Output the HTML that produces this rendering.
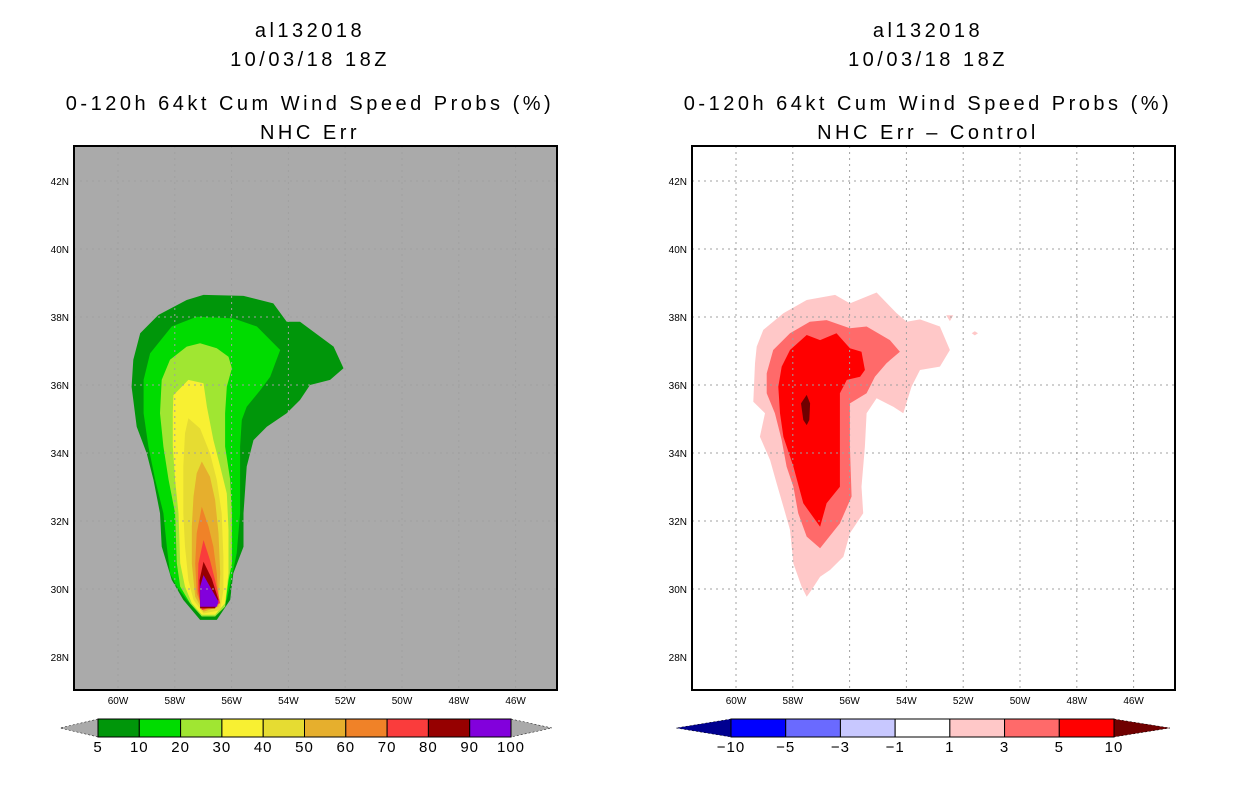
<!DOCTYPE html>
<html><head><meta charset="utf-8"><style>
body{margin:0;background:#fff;}
svg{display:block;font-family:"Liberation Sans",sans-serif;}
</style></head><body>
<svg id="c" width="1236" height="800" xmlns="http://www.w3.org/2000/svg"></svg>
<script>
const latTicks=[28,30,32,34,36,38,40,42];
const lonTicks=[-60,-58,-56,-54,-52,-50,-48,-46];
const leftLevels=[5,10,20,30,40,50,60,70,80,90,100];
const leftColors=["#00960a","#00dc00","#a0e632","#f8f032","#e6dc32","#e6af2d","#f08228","#fa3c3c","#960000","#8200dc"];
const rightLevels=[-10,-5,-3,-1,1,3,5,10];
const rightColors=["#0000ff","#6a6aff","#c8c8ff","#ffffff","#ffc8c8","#ff6a6a","#ff0000"];
const rightEnds=["#000090","#700000"];
const c5=[[-58.58,38.06],[-57.58,38.5],[-56.99,38.65],[-55.58,38.62],[-54.53,38.4],[-54.06,37.86],[-53.59,37.86],[-52.41,37.13],[-52.06,36.49],[-52.53,36.15],[-53.24,36.0],[-53.59,35.56],[-54.06,35.17],[-54.76,34.77],[-55.23,34.38],[-55.47,33.6],[-55.58,32.23],[-55.58,31.24],[-55.94,30.46],[-56.05,29.68],[-56.52,29.09],[-57.11,29.09],[-57.7,29.68],[-58.11,30.27],[-58.46,31.25],[-58.52,32.23],[-58.75,33.21],[-58.99,33.99],[-59.34,34.77],[-59.52,35.95],[-59.46,36.74],[-59.22,37.52]];
const c10=[[-58.11,37.72],[-57.23,38.01],[-55.94,37.96],[-55.11,37.72],[-54.29,37.03],[-54.64,36.24],[-54.99,35.85],[-55.47,35.36],[-55.64,34.97],[-55.7,34.19],[-55.7,32.23],[-55.82,31.05],[-55.99,30.36],[-56.17,29.68],[-56.58,29.19],[-57.05,29.19],[-57.58,29.68],[-57.93,30.07],[-58.17,30.46],[-58.28,31.25],[-58.4,32.23],[-58.69,33.21],[-58.93,34.19],[-59.1,35.17],[-59.1,36.15],[-58.87,36.93]];
const c20=[[-58.17,36.74],[-57.58,37.13],[-57.11,37.23],[-56.52,37.08],[-56.11,36.83],[-55.99,36.49],[-56.17,35.95],[-56.23,35.17],[-56.23,34.19],[-56.05,33.21],[-55.99,32.23],[-55.99,30.75],[-56.11,30.26],[-56.23,29.48],[-56.58,29.19],[-57.05,29.19],[-57.46,29.58],[-57.81,30.07],[-57.93,30.76],[-57.99,32.23],[-58.22,33.21],[-58.4,34.19],[-58.52,35.17],[-58.46,36.15]];
const c30=[[-58.05,35.7],[-57.52,36.15],[-56.99,36.05],[-56.87,35.36],[-56.64,34.38],[-56.4,33.6],[-56.17,32.81],[-56.11,31.74],[-56.11,30.46],[-56.23,29.58],[-56.58,29.24],[-57.05,29.24],[-57.4,29.58],[-57.64,30.07],[-57.81,30.76],[-57.87,32.23],[-57.99,33.21],[-58.07,34.19],[-58.07,35.17]];
const c40=[[-57.52,35.02],[-57.11,34.72],[-56.76,33.99],[-56.52,33.21],[-56.35,32.23],[-56.29,30.95],[-56.29,29.97],[-56.4,29.38],[-56.99,29.28],[-57.34,29.68],[-57.52,30.26],[-57.64,31.24],[-57.7,32.23],[-57.7,33.6],[-57.64,34.58]];
const c50=[[-57.05,33.75],[-56.76,33.3],[-56.58,32.62],[-56.46,31.64],[-56.4,30.46],[-56.46,29.48],[-56.99,29.33],[-57.28,29.77],[-57.4,30.76],[-57.4,31.83],[-57.34,32.72],[-57.23,33.4]];
const c60=[[-57.05,32.42],[-56.81,31.83],[-56.64,31.24],[-56.52,30.46],[-56.46,29.53],[-56.99,29.38],[-57.23,29.87],[-57.28,30.75],[-57.23,31.64]];
const c70=[[-56.99,31.44],[-56.76,30.85],[-56.58,30.26],[-56.4,29.58],[-57.05,29.38],[-57.19,29.97],[-57.17,30.75]];
const c80=[[-56.99,30.8],[-56.7,30.31],[-56.46,29.68],[-56.58,29.43],[-57.11,29.43],[-57.13,30.26]];
const c90=[[-56.99,30.41],[-56.76,30.07],[-56.46,29.63],[-56.52,29.48],[-57.11,29.48],[-57.11,30.07]];
const d1=[[-59.04,37.62],[-58.33,38.11],[-57.51,38.5],[-56.51,38.65],[-55.99,38.4],[-55.05,38.72],[-54.34,38.11],[-53.99,37.86],[-53.52,37.93],[-52.82,37.72],[-52.47,37.03],[-52.82,36.54],[-53.52,36.44],[-53.82,35.95],[-54.11,35.17],[-54.46,35.36],[-55.05,35.61],[-55.4,35.17],[-55.46,34.19],[-55.58,33.01],[-55.52,32.23],[-55.99,31.64],[-56.22,30.95],[-56.69,30.56],[-57.04,30.36],[-57.34,29.97],[-57.51,29.77],[-57.69,30.07],[-57.98,30.75],[-58.1,31.74],[-58.33,32.42],[-58.57,33.11],[-58.8,33.79],[-59.16,34.48],[-58.98,35.17],[-59.39,35.51],[-59.33,36.64],[-59.27,37.13]];
const d1a=[[-52.6,38.05],[-52.35,38.05],[-52.47,37.88]];
const d1b=[[-51.7,37.52],[-51.59,37.58],[-51.48,37.52],[-51.59,37.46]];
const d3=[[-58.69,37.03],[-58.1,37.52],[-57.4,37.86],[-56.81,37.91],[-55.99,37.67],[-55.4,37.72],[-54.58,37.32],[-54.23,36.98],[-54.7,36.64],[-55.11,36.24],[-55.4,35.76],[-55.99,35.46],[-55.99,34.19],[-55.93,32.72],[-56.34,31.93],[-57.04,31.2],[-57.51,31.54],[-57.81,32.23],[-57.98,33.01],[-58.22,33.6],[-58.39,34.38],[-58.63,35.17],[-58.92,35.76],[-58.92,36.34]];
const d5=[[-58.1,37.03],[-57.51,37.47],[-57.04,37.32],[-56.46,37.52],[-55.99,37.08],[-55.58,36.98],[-55.46,36.44],[-55.63,36.24],[-56.1,36.15],[-56.34,35.76],[-56.34,34.68],[-56.34,33.01],[-56.81,32.52],[-57.04,31.83],[-57.63,32.52],[-57.98,33.6],[-58.33,34.48],[-58.45,35.17],[-58.51,35.95],[-58.39,36.54]];
const d10=[[-57.51,35.71],[-57.39,35.46],[-57.42,34.97],[-57.51,34.82],[-57.63,34.97],[-57.71,35.46]];

const NS="http://www.w3.org/2000/svg";
const svg=document.getElementById('c');
function mk(t,a,p){const e=document.createElementNS(NS,t);for(const k in a)e.setAttribute(k,a[k]);(p||svg).appendChild(e);return e;}
const FT=146,FB=690,FW=483;
function xS(off){return lon=>off+118+(lon+60)*28.4;}
function yS(lat){return 317-(lat-38)*34;}

function panel(off,bg,t4,name){
  const g=mk('g',{});
  
  
  const X=xS(off),L=74+off;
  mk('rect',{x:L,y:FT,width:FW,height:FB-FT,fill:bg},g);
  const titles=[["al132018",37],["10/03/18 18Z",66],["0-120h 64kt Cum Wind Speed Probs (%)",110],[t4,139]];
  titles.forEach((t,i)=>{const e=mk('text',{x:L+236,y:t[1],'text-anchor':'middle','font-size':20,fill:'#000','letter-spacing':'3.5'},g);e.textContent=t[0];
    
    });
  const cg=mk('g',{},g);
  
  
  return {g,cg,X,L};
}
function poly(p,data,X,fill,name){
  const e=mk('polygon',{points:data.map(d=>X(d[0]).toFixed(1)+','+yS(d[1]).toFixed(1)).join(' '),fill:fill},p);
  
  
}
function grid(p,X,L){
  lonTicks.forEach(lo=>{mk('line',{x1:X(lo),x2:X(lo),y1:FT,y2:FB,stroke:'#a0a0a0','stroke-dasharray':'2,4','stroke-width':1},p);
    const t=mk('text',{x:X(lo),y:FB+14,'text-anchor':'middle','font-size':10},p);t.textContent=(-lo)+'W';
    
    });
  latTicks.forEach(la=>{if(la>28)mk('line',{x1:L,x2:L+FW,y1:yS(la),y2:yS(la),stroke:'#a0a0a0','stroke-dasharray':'2,4','stroke-width':1},p);
    const t=mk('text',{x:L-5,y:yS(la)+4,'text-anchor':'end','font-size':10},p);t.textContent=la+'N';
    
    });
  mk('rect',{x:L,y:FT,width:FW,height:FB-FT,fill:'none',stroke:'#000','stroke-width':2},p);
}
const A=panel(0,'#aaaaaa','NHC Err','left-panel');
[c5,c10,c20,c30,c40,c50,c60,c70,c80,c90].forEach((d,i)=>poly(A.cg,d,A.X,leftColors[i],'contour-'+leftLevels[i]));
grid(A.g,A.X,A.L);
const B=panel(618,'#ffffff','NHC Err \u2013 Control','right-panel');
poly(B.cg,d1,B.X,rightColors[4],'diff-contour-1');
poly(B.cg,d1a,B.X,rightColors[4],'diff-contour-1-speck');
poly(B.cg,d1b,B.X,rightColors[4],'diff-contour-1-speck');
poly(B.cg,d3,B.X,rightColors[5],'diff-contour-3');
poly(B.cg,d5,B.X,rightColors[6],'diff-contour-5');
poly(B.cg,d10,B.X,rightEnds[1],'diff-contour-10');
grid(B.g,B.X,B.L);

function cbar(x0,x1,tipL,tipR,colors,labels,endL,endR,name){
  const g=mk('g',{});
  
  
  const y0=719,y1=737,ym=728,w=(x1-x0)/colors.length;
  mk('polygon',{points:`${x0},${y0} ${tipL},${ym} ${x0},${y1}`,fill:endL,stroke:'#000','stroke-width':0.5,'stroke-dasharray':'2,2'},g);
  mk('polygon',{points:`${x1},${y0} ${tipR},${ym} ${x1},${y1}`,fill:endR,stroke:'#000','stroke-width':0.5,'stroke-dasharray':'2,2'},g);
  colors.forEach((c,i)=>{const r=mk('rect',{x:x0+i*w,y:y0,width:w,height:y1-y0,fill:c,stroke:'#000','stroke-width':1},g);
    
    });
  labels.forEach((l,i)=>{const t=mk('text',{x:x0+i*w,y:752,'text-anchor':'middle','font-size':15,'letter-spacing':'1'},g);t.textContent=String(l).replace('-','\u2212');
    
    });
}
cbar(98,511,60,552,leftColors,leftLevels,'#aaaaaa','#aaaaaa','left-colorbar');
cbar(731,1114,676,1170,rightColors,rightLevels,rightEnds[0],rightEnds[1],'right-colorbar');
</script>
</body></html>
